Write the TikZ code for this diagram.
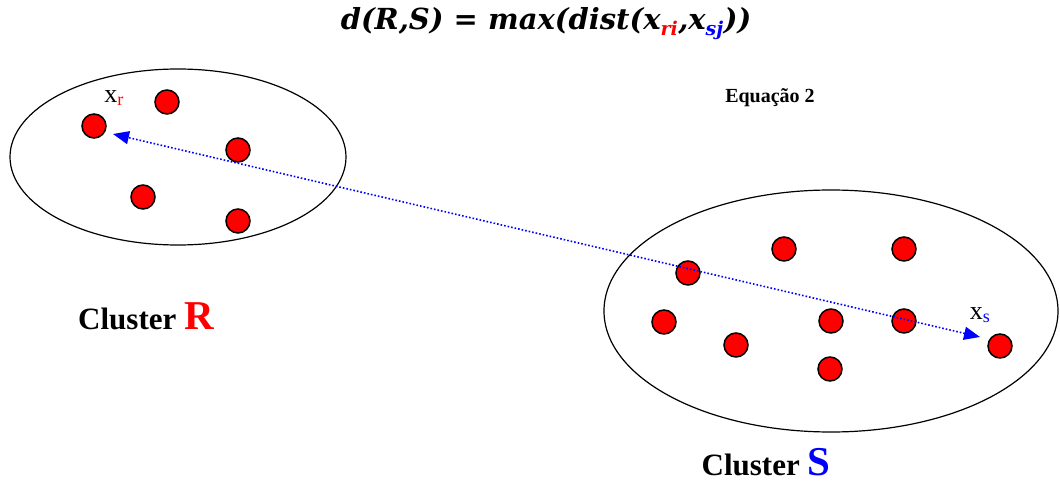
\documentclass[tikz,border=0pt]{standalone}
\usepackage{fontspec}
\setmainfont{Liberation Serif}
\newfontfamily\titlefont{DejaVu Serif}
\usepackage{xcolor}
\usetikzlibrary{shapes,arrows,arrows.meta,positioning}
\definecolor{dotred}{RGB}{255,0,0}
\definecolor{linkblue}{RGB}{0,0,255}

\begin{document}
\begin{tikzpicture}[x=1pt, y=-1pt,
    pt/.style={circle, draw, line width=1.5pt, fill=dotred, minimum size=24pt, inner sep=0pt},
    cluster/.style={ellipse, draw, line width=1.2pt, inner sep=0pt},
    link/.style={linkblue, dotted, line width=1.6pt}]
        \useasboundingbox (0,0) rectangle (1060,484);

        % equation on top
        \node (eq) at (546,24) {\titlefont\bfseries\itshape\fontsize{29}{32}\selectfont d(R,S) = max(dist(x$_{\textcolor{dotred}{\mbox{\titlefont\bfseries\itshape\fontsize{19}{22}\selectfont ri}}}$,x$_{\textcolor{linkblue}{\mbox{\titlefont\bfseries\itshape\fontsize{19}{22}\selectfont sj}}}$))};
        \node[font=\bfseries\fontsize{20}{22}\selectfont] (eqno) at (770,98) {Equação 2};

        % the two clusters
        \node[cluster, minimum width=336pt, minimum height=176pt] (clR) at (178,157) {};
        \node[cluster, minimum width=454pt, minimum height=242pt] (clS) at (831,311) {};

        % points of cluster R
        \node[pt] (r1) at (94,126) {};
        \node[pt] (r2) at (167,102) {};
        \node[pt] (r3) at (238,150) {};
        \node[pt] (r4) at (143,197) {};
        \node[pt] (r5) at (238,221) {};

        % points of cluster S
        \node[pt] (s1) at (688,273) {};
        \node[pt] (s2) at (784,249) {};
        \node[pt] (s3) at (904,249) {};
        \node[pt] (s4) at (664,322) {};
        \node[pt] (s5) at (736,345) {};
        \node[pt] (s6) at (831,321) {};
        \node[pt] (s7) at (904,321) {};
        \node[pt] (s8) at (830,369) {};
        \node[pt] (s9) at (1000,346) {};

        % labels
        \node[font=\fontsize{26}{28}\selectfont] (xr) at (114,98) {x\textcolor{dotred}{$_{\mbox{\fontsize{18}{20}\selectfont r}}$}};
        \node[font=\fontsize{26}{28}\selectfont] (xs) at (980,315) {x\textcolor{linkblue}{$_{\mbox{\fontsize{18}{20}\selectfont s}}$}};
        \node[font=\bfseries\fontsize{31}{34}\selectfont, inner sep=0pt, anchor=base] (nameR) at (146,329) {Cluster \textcolor{dotred}{\fontsize{41}{44}\selectfont R}};
        \node[font=\bfseries\fontsize{31}{34}\selectfont, inner sep=0pt, anchor=base] (nameS) at (766,475) {Cluster \textcolor{linkblue}{\fontsize{41}{44}\selectfont S}};

        % max distance
        \coordinate (endR) at (113,134);
        \coordinate (endS) at (980,337);
        \draw[link, {Triangle[length=16pt,width=13pt]}-{Triangle[length=16pt,width=13pt]}] (endS) -- (endR);
      \end{tikzpicture}
\end{document}
